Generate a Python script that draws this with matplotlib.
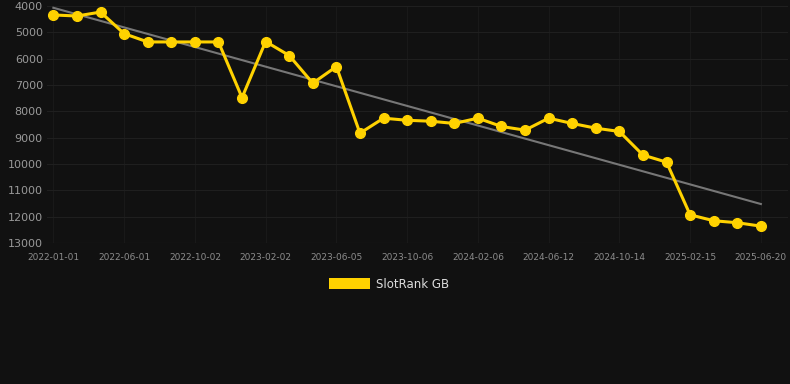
import numpy as np
import matplotlib
matplotlib.use("Agg")
import matplotlib.pyplot as plt
from matplotlib.patches import Patch

# rank values (lower is better, axis inverted)
ranks = [4340, 4380, 4230, 5050, 5365, 5365, 5365, 5365, 7480, 5350,
         5880, 6930, 6300, 8830, 8260, 8340, 8375, 8460, 8260, 8575,
         8715, 8260, 8460, 8640, 8765, 9660, 9930, 11930, 12155, 12230,
         12360]
tick_labels = ["2022-01-01", "2022-06-01", "2022-10-02", "2023-02-02",
               "2023-06-05", "2023-10-06", "2024-02-06", "2024-06-12",
               "2024-10-14", "2025-02-15", "2025-06-20"]
y_ticks = [4000, 5000, 6000, 7000, 8000, 9000, 10000, 11000, 12000, 13000]

BG = "#111111"
GOLD = "#FFD200"

fig = plt.figure(figsize=(7.9, 3.84), dpi=100, facecolor=BG)
ax = fig.add_axes([47 / 790, 1 - 243 / 384, 741 / 790, 237 / 384])
ax.set_facecolor(BG)

x = np.arange(len(ranks))

# trend line
k, b = np.polyfit(x, ranks, 1)
ax.plot([x[0], x[-1]], [k * x[0] + b, k * x[-1] + b], color="#777777", lw=1.5, zorder=2)

ax.plot(x, ranks, color=GOLD, lw=2.2, marker="o", markersize=7, zorder=3)

ax.set_ylim(13000, 4000)
ax.set_xlim(-0.27, 31.15)
ax.set_yticks(y_ticks)
ax.set_xticks(x[::3])
ax.set_xticklabels(tick_labels)

ax.grid(True, axis="y", color="#1f1f1f", lw=0.8)
ax.grid(True, axis="x", color="#191919", lw=0.8)
for s in ax.spines.values():
    s.set_visible(False)
ax.tick_params(axis="y", colors="#999999", labelsize=8, length=0, pad=3)
ax.tick_params(axis="x", colors="#8c8c8c", labelsize=6.5, length=0, pad=7)
ax.axhline(13000, color="#2c2c2c", lw=0.8)

leg = fig.legend(handles=[Patch(facecolor=GOLD, label="SlotRank GB")],
                 loc="center", bbox_to_anchor=(0.492, 1 - 284 / 384),
                 frameon=False, handlelength=3.5, handleheight=1.1,
                 fontsize=8.5, handletextpad=0.5)
for t in leg.get_texts():
    t.set_color("#dddddd")

fig.savefig("out.png", dpi=100, facecolor=BG)
